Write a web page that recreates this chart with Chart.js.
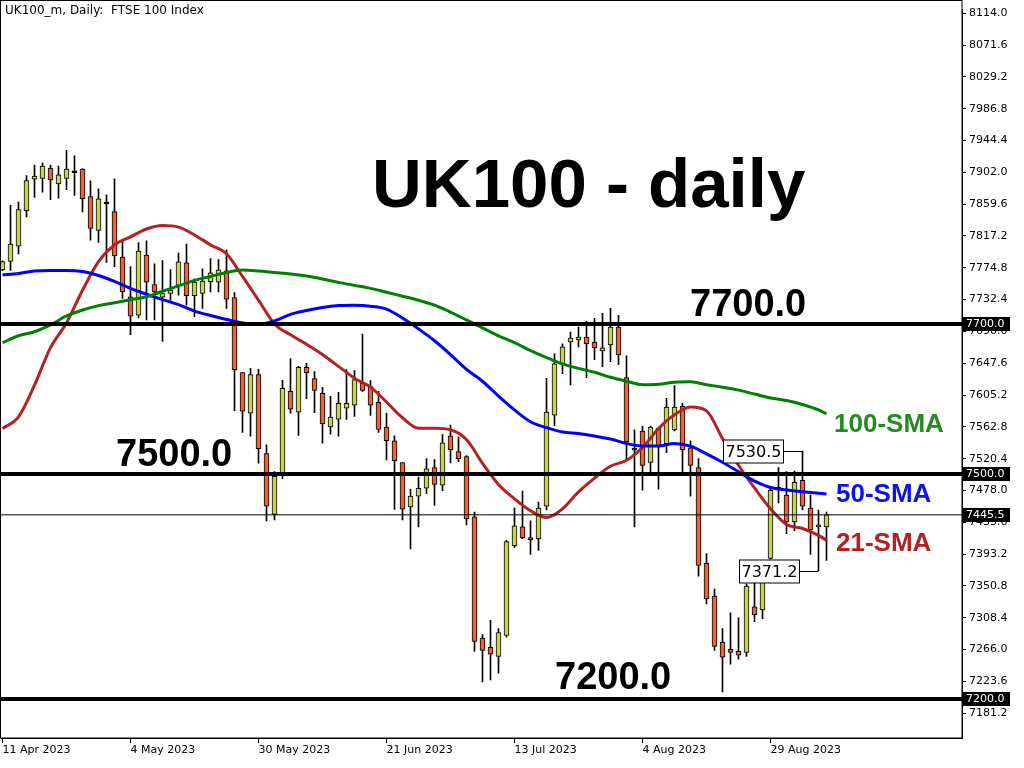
<!DOCTYPE html>
<html>
<head>
<meta charset="utf-8">
<script src="https://cdn.jsdelivr.net/npm/chart.js@4.4.0/dist/chart.umd.min.js"></script>
<style>
  html, body { margin: 0; padding: 0; background: #fff; }
  #wrap { width: 1024px; height: 768px; }
</style>
</head>
<body>
<div id="wrap"><canvas id="ukChart" width="1024" height="768"></canvas></div>
<script>
// daily candles, 11 Apr 2023 .. 7 Sep 2023
var open = [7772.1, 7783.4, 7803.7, 7851.1, 7892.8, 7894.1, 7907.8, 7886.7, 7894.1, 7902.5,
  7906.5, 7869.6, 7824.8, 7860.9, 7849.8, 7789.2, 7736.0, 7711.5, 7791.8, 7752.3,
  7735.6, 7740.5, 7751.4, 7781.3, 7737.8, 7740.5, 7756.3, 7755.7, 7770.8, 7735.2,
  7635.1, 7581.0, 7632.4, 7527.0, 7446.1, 7501.1, 7610.0, 7582.4, 7642.1, 7627.2,
  7607.4, 7562.6, 7573.1, 7587.6, 7591.6, 7621.4, 7616.6, 7595.5, 7562.6, 7544.2,
  7515.2, 7455.9, 7470.4, 7480.9, 7508.6, 7484.9, 7550.7, 7529.7, 7523.1, 7442.7,
  7280.7, 7268.8, 7256.9, 7284.6, 7404.5, 7429.5, 7415.0, 7413.7, 7457.2, 7578.4,
  7646.9, 7675.9, 7678.5, 7682.5, 7675.9, 7664.1, 7672.0, 7695.7, 7628.5, 7532.8,
  7557.3, 7515.2, 7561.3, 7540.2, 7558.7, 7590.3, 7534.9, 7508.6, 7380.8, 7337.3,
  7275.4, 7266.2, 7263.5, 7262.2, 7322.8, 7318.9, 7387.4, 7480.5, 7471.7, 7436.1,
  7491.5, 7454.6, 7432.2, 7429.5]
var high = [7784.0, 7858.1, 7862.5, 7897.6, 7911.7, 7914.8, 7911.7, 7910.4, 7931.5, 7924.0,
  7907.0, 7890.7, 7880.1, 7872.2, 7893.3, 7811.6, 7776.4, 7808.5, 7810.7, 7780.0,
  7784.3, 7772.5, 7794.5, 7806.3, 7760.2, 7773.4, 7787.0, 7785.7, 7798.8, 7741.8,
  7635.1, 7640.7, 7639.4, 7538.9, 7503.3, 7624.9, 7653.9, 7643.4, 7647.3, 7636.4,
  7615.3, 7603.4, 7608.7, 7639.0, 7637.7, 7686.4, 7624.5, 7610.0, 7581.0, 7550.7,
  7515.2, 7479.6, 7495.8, 7520.4, 7519.1, 7552.5, 7565.2, 7549.4, 7524.4, 7449.3,
  7285.9, 7304.8, 7293.8, 7411.5, 7454.6, 7477.0, 7437.4, 7462.5, 7627.6, 7660.1,
  7673.3, 7689.1, 7695.7, 7703.6, 7707.5, 7714.1, 7720.7, 7711.5, 7657.5, 7558.7,
  7563.9, 7563.9, 7561.3, 7600.8, 7617.9, 7594.2, 7544.2, 7520.4, 7394.0, 7346.5,
  7293.8, 7314.9, 7308.3, 7353.1, 7365.8, 7383.4, 7483.6, 7508.6, 7503.3, 7503.7,
  7530.5, 7471.7, 7451.9, 7449.3]
var low = [7771.0, 7771.2, 7793.2, 7842.7, 7868.7, 7875.6, 7865.6, 7867.7, 7878.8, 7871.3,
  7849.3, 7811.6, 7808.5, 7782.1, 7776.4, 7733.9, 7685.5, 7707.9, 7705.3, 7705.3,
  7676.7, 7731.6, 7738.2, 7725.0, 7709.6, 7720.7, 7742.6, 7742.6, 7720.7, 7584.5,
  7555.5, 7550.2, 7514.2, 7437.4, 7438.8, 7493.6, 7581.0, 7551.5, 7600.3, 7581.8,
  7541.0, 7552.9, 7550.2, 7572.6, 7576.6, 7610.0, 7577.9, 7555.5, 7518.6, 7452.7,
  7438.8, 7400.0, 7429.3, 7473.8, 7458.0, 7477.8, 7514.6, 7516.5, 7432.2, 7263.5,
  7222.7, 7225.3, 7234.5, 7282.4, 7401.9, 7413.7, 7392.7, 7397.9, 7451.9, 7564.3,
  7633.7, 7618.7, 7669.3, 7628.5, 7652.2, 7643.0, 7649.6, 7645.6, 7517.8, 7429.5,
  7478.3, 7502.0, 7479.6, 7528.3, 7557.3, 7502.0, 7470.4, 7363.7, 7326.8, 7264.8,
  7209.5, 7246.4, 7253.0, 7256.9, 7303.1, 7307.0, 7386.5, 7461.5, 7420.3, 7424.3,
  7451.9, 7392.7, 7371.2, 7384.7]
var close = [7783.0, 7806.3, 7852.5, 7891.1, 7897.2, 7910.4, 7892.0, 7898.6, 7906.5, 7901.5,
  7866.9, 7827.4, 7866.9, 7859.9, 7790.5, 7743.1, 7710.2, 7797.1, 7755.7, 7742.6,
  7740.5, 7745.2, 7782.6, 7737.8, 7755.7, 7757.1, 7768.1, 7772.1, 7733.0, 7639.0,
  7583.7, 7632.4, 7533.6, 7457.2, 7496.7, 7614.0, 7586.3, 7642.1, 7635.1, 7611.3,
  7566.6, 7575.8, 7594.2, 7594.2, 7625.8, 7611.3, 7591.6, 7559.4, 7544.2, 7517.8,
  7453.2, 7470.4, 7480.9, 7506.7, 7486.2, 7541.5, 7532.3, 7520.4, 7440.1, 7276.7,
  7264.8, 7259.6, 7288.6, 7409.8, 7430.9, 7415.0, 7412.4, 7454.6, 7582.4, 7646.9,
  7669.3, 7681.2, 7682.5, 7673.3, 7668.0, 7668.0, 7695.7, 7658.8, 7542.8, 7531.8,
  7511.2, 7562.6, 7537.6, 7589.0, 7589.0, 7532.3, 7511.2, 7378.2, 7333.4, 7270.1,
  7255.6, 7262.2, 7258.3, 7350.5, 7312.3, 7355.8, 7478.3, 7479.5, 7436.1, 7488.8,
  7457.2, 7425.6, 7429.5, 7445.5]

// moving averages, read every second bar
var smaIdx = [0, 2, 4, 6, 8, 10, 12, 14, 16, 18, 20, 22, 24, 26, 28, 30, 32, 34, 36, 38,
  40, 42, 44, 46, 48, 50, 52, 54, 56, 58, 60, 62, 64, 66, 68, 70, 72, 74, 76, 78,
  80, 82, 84, 86, 88, 90, 92, 94, 96, 98, 100, 102, 103]
var sma21 = [7560.4, 7576.2, 7618.3, 7668.4, 7701.3, 7744.8, 7783.0, 7805.4, 7816.0, 7826.5,
  7831.1, 7829.1, 7818.6, 7805.4, 7793.6, 7763.3, 7731.6, 7700.0, 7685.5, 7673.0,
  7659.2, 7643.4, 7627.6, 7615.7, 7595.9, 7574.9, 7561.0, 7561.0, 7559.0, 7545.9,
  7514.2, 7485.9, 7466.8, 7451.0, 7441.8, 7453.6, 7476.0, 7494.5, 7510.3, 7518.2,
  7535.3, 7560.4, 7578.8, 7589.3, 7584.1, 7547.2, 7511.6, 7481.3, 7453.6, 7432.6,
  7427.3, 7418.1, 7411.5]
var sma50 = [7765.5, 7767.2, 7770.5, 7771.2, 7771.2, 7769.8, 7764.6, 7756.7, 7747.4, 7739.5,
  7732.3, 7725.7, 7717.1, 7711.2, 7705.9, 7701.3, 7699.4, 7704.0, 7712.8, 7717.8,
  7721.8, 7724.4, 7725.0, 7723.7, 7719.8, 7707.9, 7693.4, 7677.6, 7659.2, 7639.4,
  7623.6, 7603.8, 7585.4, 7569.6, 7561.7, 7555.8, 7553.8, 7550.5, 7546.5, 7540.6,
  7537.3, 7537.3, 7540.6, 7537.0, 7526.8, 7515.6, 7503.0, 7490.5, 7482.0, 7478.7,
  7476.4, 7474.3, 7473.4]
var sma100 = [7675.0, 7684.2, 7689.5, 7698.7, 7710.6, 7718.5, 7724.4, 7728.3, 7732.3, 7736.2,
  7743.5, 7750.7, 7758.0, 7763.3, 7768.5, 7771.8, 7770.5, 7768.5, 7766.6, 7763.9,
  7760.0, 7755.4, 7751.4, 7747.4, 7742.2, 7736.9, 7731.6, 7725.0, 7715.8, 7705.3,
  7694.7, 7684.2, 7675.0, 7664.4, 7655.2, 7646.7, 7640.7, 7635.5, 7628.9, 7623.6,
  7619.0, 7619.6, 7622.3, 7622.9, 7619.0, 7615.7, 7611.7, 7606.5, 7601.2, 7597.9,
  7592.6, 7585.4, 7580.1]

var levels = [7700.0, 7500.0, 7200.0]
var lastPrice = 7445.5
var xTickIdx = [0, 16, 32, 48, 64, 80, 96]
var xTickLabels = ['11 Apr 2023', '4 May 2023', '30 May 2023', '21 Jun 2023', '13 Jul 2023', '4 Aug 2023', '29 Aug 2023']
var yTicks = [8114.0, 8071.6, 8029.2, 7986.8, 7944.4, 7902.0, 7859.6, 7817.2, 7774.8, 7732.4,
  7690.0, 7647.6, 7605.2, 7562.8, 7520.4, 7478.0, 7435.6, 7393.2, 7350.8, 7308.4,
  7266.0, 7223.6, 7181.2]

var BULL = '#c8d83a'
var BEAR = '#f0622c'

var wickData = close.map(function (c, i) { return { x: i, y: [low[i], high[i]] } })
var bodyData = close.map(function (c, i) { return { x: i, y: [open[i], c] } })
var bodyColors = close.map(function (c, i) {
  if (Math.abs(c - open[i]) < 1.5) return '#000'
  return c > open[i] ? BULL : BEAR
})
function smaLine(vals) {
  return smaIdx.map(function (ix, k) { return { x: ix, y: vals[k] } })
}
function flatLine(v) {
  return [{ x: -2, y: v }, { x: 122, y: v }]
}

var overlay = {
  id: 'overlay',
  afterDraw: function (chart) {
    var ctx = chart.ctx, a = chart.chartArea
    var xs = chart.scales.x, ys = chart.scales.y
    ctx.save()
    ctx.strokeStyle = '#000'
    ctx.lineWidth = 1
    ctx.strokeRect(0.5, 0.5, a.right - 0.5, a.bottom - 0.5)

    ctx.fillStyle = '#000'
    ctx.textBaseline = 'middle'
    ctx.font = '12px "DejaVu Sans"'
    ctx.fillText('UK100_m, Daily:  FTSE 100 Index', 5, 11)

    // price tags on the axis
    ctx.font = '11px "DejaVu Sans"'
    levels.concat([lastPrice]).forEach(function (v) {
      var y = Math.round(ys.getPixelForValue(v))
      ctx.fillStyle = '#000'
      ctx.fillRect(963, y - 7, 47, 14)
      ctx.fillStyle = '#fff'
      ctx.fillText(v.toFixed(1), 966, y)
    })

    // big labels
    ctx.textBaseline = 'alphabetic'
    ctx.fillStyle = '#000'
    ctx.font = 'bold 69px "Liberation Sans"'
    ctx.fillText('UK100 - daily', 372, 207)
    ctx.font = 'bold 38px "Liberation Sans"'
    ctx.fillText('7700.0', 690, ys.getPixelForValue(levels[0]) - 8)
    ctx.fillText('7500.0', 116, ys.getPixelForValue(levels[1]) - 8)
    ctx.fillText('7200.0', 555, ys.getPixelForValue(levels[2]) - 10)

    ctx.font = 'bold 26px "Liberation Sans"'
    ctx.fillStyle = '#228b22'
    ctx.fillText('100-SMA', 834, 432)
    ctx.fillStyle = '#1010ee'
    ctx.fillText('50-SMA', 836, 502)
    ctx.fillStyle = '#b22222'
    ctx.fillText('21-SMA', 836, 551)

    // callouts on the swing high / low
    function callout(value, idx) {
      var ax = xs.getPixelForValue(idx), ay = Math.round(ys.getPixelForValue(value)) + 0.5
      var bx = Math.round(ax - 80) + 0.5
      ctx.strokeStyle = '#000'
      ctx.lineWidth = 1
      ctx.beginPath()
      ctx.moveTo(bx + 60, ay)
      ctx.lineTo(ax, ay)
      ctx.stroke()
      ctx.fillStyle = '#fff'
      ctx.fillRect(bx, ay - 11.5, 60, 23)
      ctx.strokeRect(bx, ay - 11.5, 60, 23)
      ctx.fillStyle = '#000'
      ctx.font = '16px "DejaVu Sans"'
      ctx.textAlign = 'center'
      ctx.textBaseline = 'middle'
      ctx.fillText(value.toFixed(1), bx + 30, ay + 1)
      ctx.textAlign = 'left'
    }
    callout(high[100], 100)
    callout(low[102], 102)
    ctx.restore()
  }
}

new Chart(document.getElementById('ukChart'), {
  type: 'bar',
  data: {
    datasets: [
      { type: 'line', data: flatLine(levels[0]), borderColor: '#000', borderWidth: 4, pointRadius: 0, order: 0 },
      { type: 'line', data: flatLine(levels[1]), borderColor: '#000', borderWidth: 4, pointRadius: 0, order: 0 },
      { type: 'line', data: flatLine(levels[2]), borderColor: '#000', borderWidth: 4, pointRadius: 0, order: 0 },
      { type: 'line', data: flatLine(lastPrice), borderColor: '#000', borderWidth: 1, pointRadius: 0, order: 0 },
      { type: 'line', label: '100-SMA', data: smaLine(sma100), borderColor: '#008000', borderWidth: 3,
        pointRadius: 0, cubicInterpolationMode: 'monotone', order: 1 },
      { type: 'line', label: '50-SMA', data: smaLine(sma50), borderColor: '#0000ff', borderWidth: 3,
        pointRadius: 0, cubicInterpolationMode: 'monotone', order: 1 },
      { type: 'line', label: '21-SMA', data: smaLine(sma21), borderColor: '#b22222', borderWidth: 3,
        pointRadius: 0, cubicInterpolationMode: 'monotone', order: 1 },
      { label: 'bodies', data: bodyData, backgroundColor: bodyColors, borderColor: '#000', borderWidth: 1,
        borderSkipped: false, barThickness: 5, minBarLength: 2, grouped: false, order: 2 },
      { label: 'wicks', data: wickData, backgroundColor: '#000', borderWidth: 0,
        barThickness: 1, grouped: false, order: 3 }
    ]
  },
  options: {
    responsive: false,
    animation: false,
    devicePixelRatio: 1,
    layout: { padding: { top: 1, left: 1, right: 0, bottom: 0 } },
    plugins: { legend: { display: false }, tooltip: { enabled: false } },
    scales: {
      x: {
        type: 'linear',
        min: -0.1875,
        max: 119.9375,
        offset: false,
        grid: { display: true, drawOnChartArea: false, drawTicks: true, tickLength: 5, color: '#000', offset: false },
        border: { display: true, color: '#000' },
        afterBuildTicks: function (scale) {
          scale.ticks = xTickIdx.map(function (v) { return { value: v } })
        },
        afterFit: function (scale) { scale.height = 30 },
        ticks: {
          autoSkip: false,
          maxRotation: 0,
          align: 'start',
          padding: 1,
          color: '#000',
          font: { family: 'DejaVu Sans', size: 11 },
          callback: function (v) {
            var k = xTickIdx.indexOf(v)
            return k >= 0 ? xTickLabels[k] : ''
          }
        }
      },
      y: {
        position: 'right',
        min: 7148.0,
        max: 8119.0,
        grid: { display: true, drawOnChartArea: false, drawTicks: true, tickLength: 4, color: '#000' },
        border: { display: true, color: '#000' },
        afterBuildTicks: function (scale) {
          scale.ticks = yTicks.map(function (v) { return { value: v } })
        },
        afterFit: function (scale) { scale.width = 62 },
        ticks: {
          autoSkip: false,
          padding: 3,
          color: '#000',
          font: { family: 'DejaVu Sans', size: 11 },
          callback: function (v) { return Number(v).toFixed(1) }
        }
      }
    }
  },
  plugins: [overlay]
})
</script>
</body>
</html>
